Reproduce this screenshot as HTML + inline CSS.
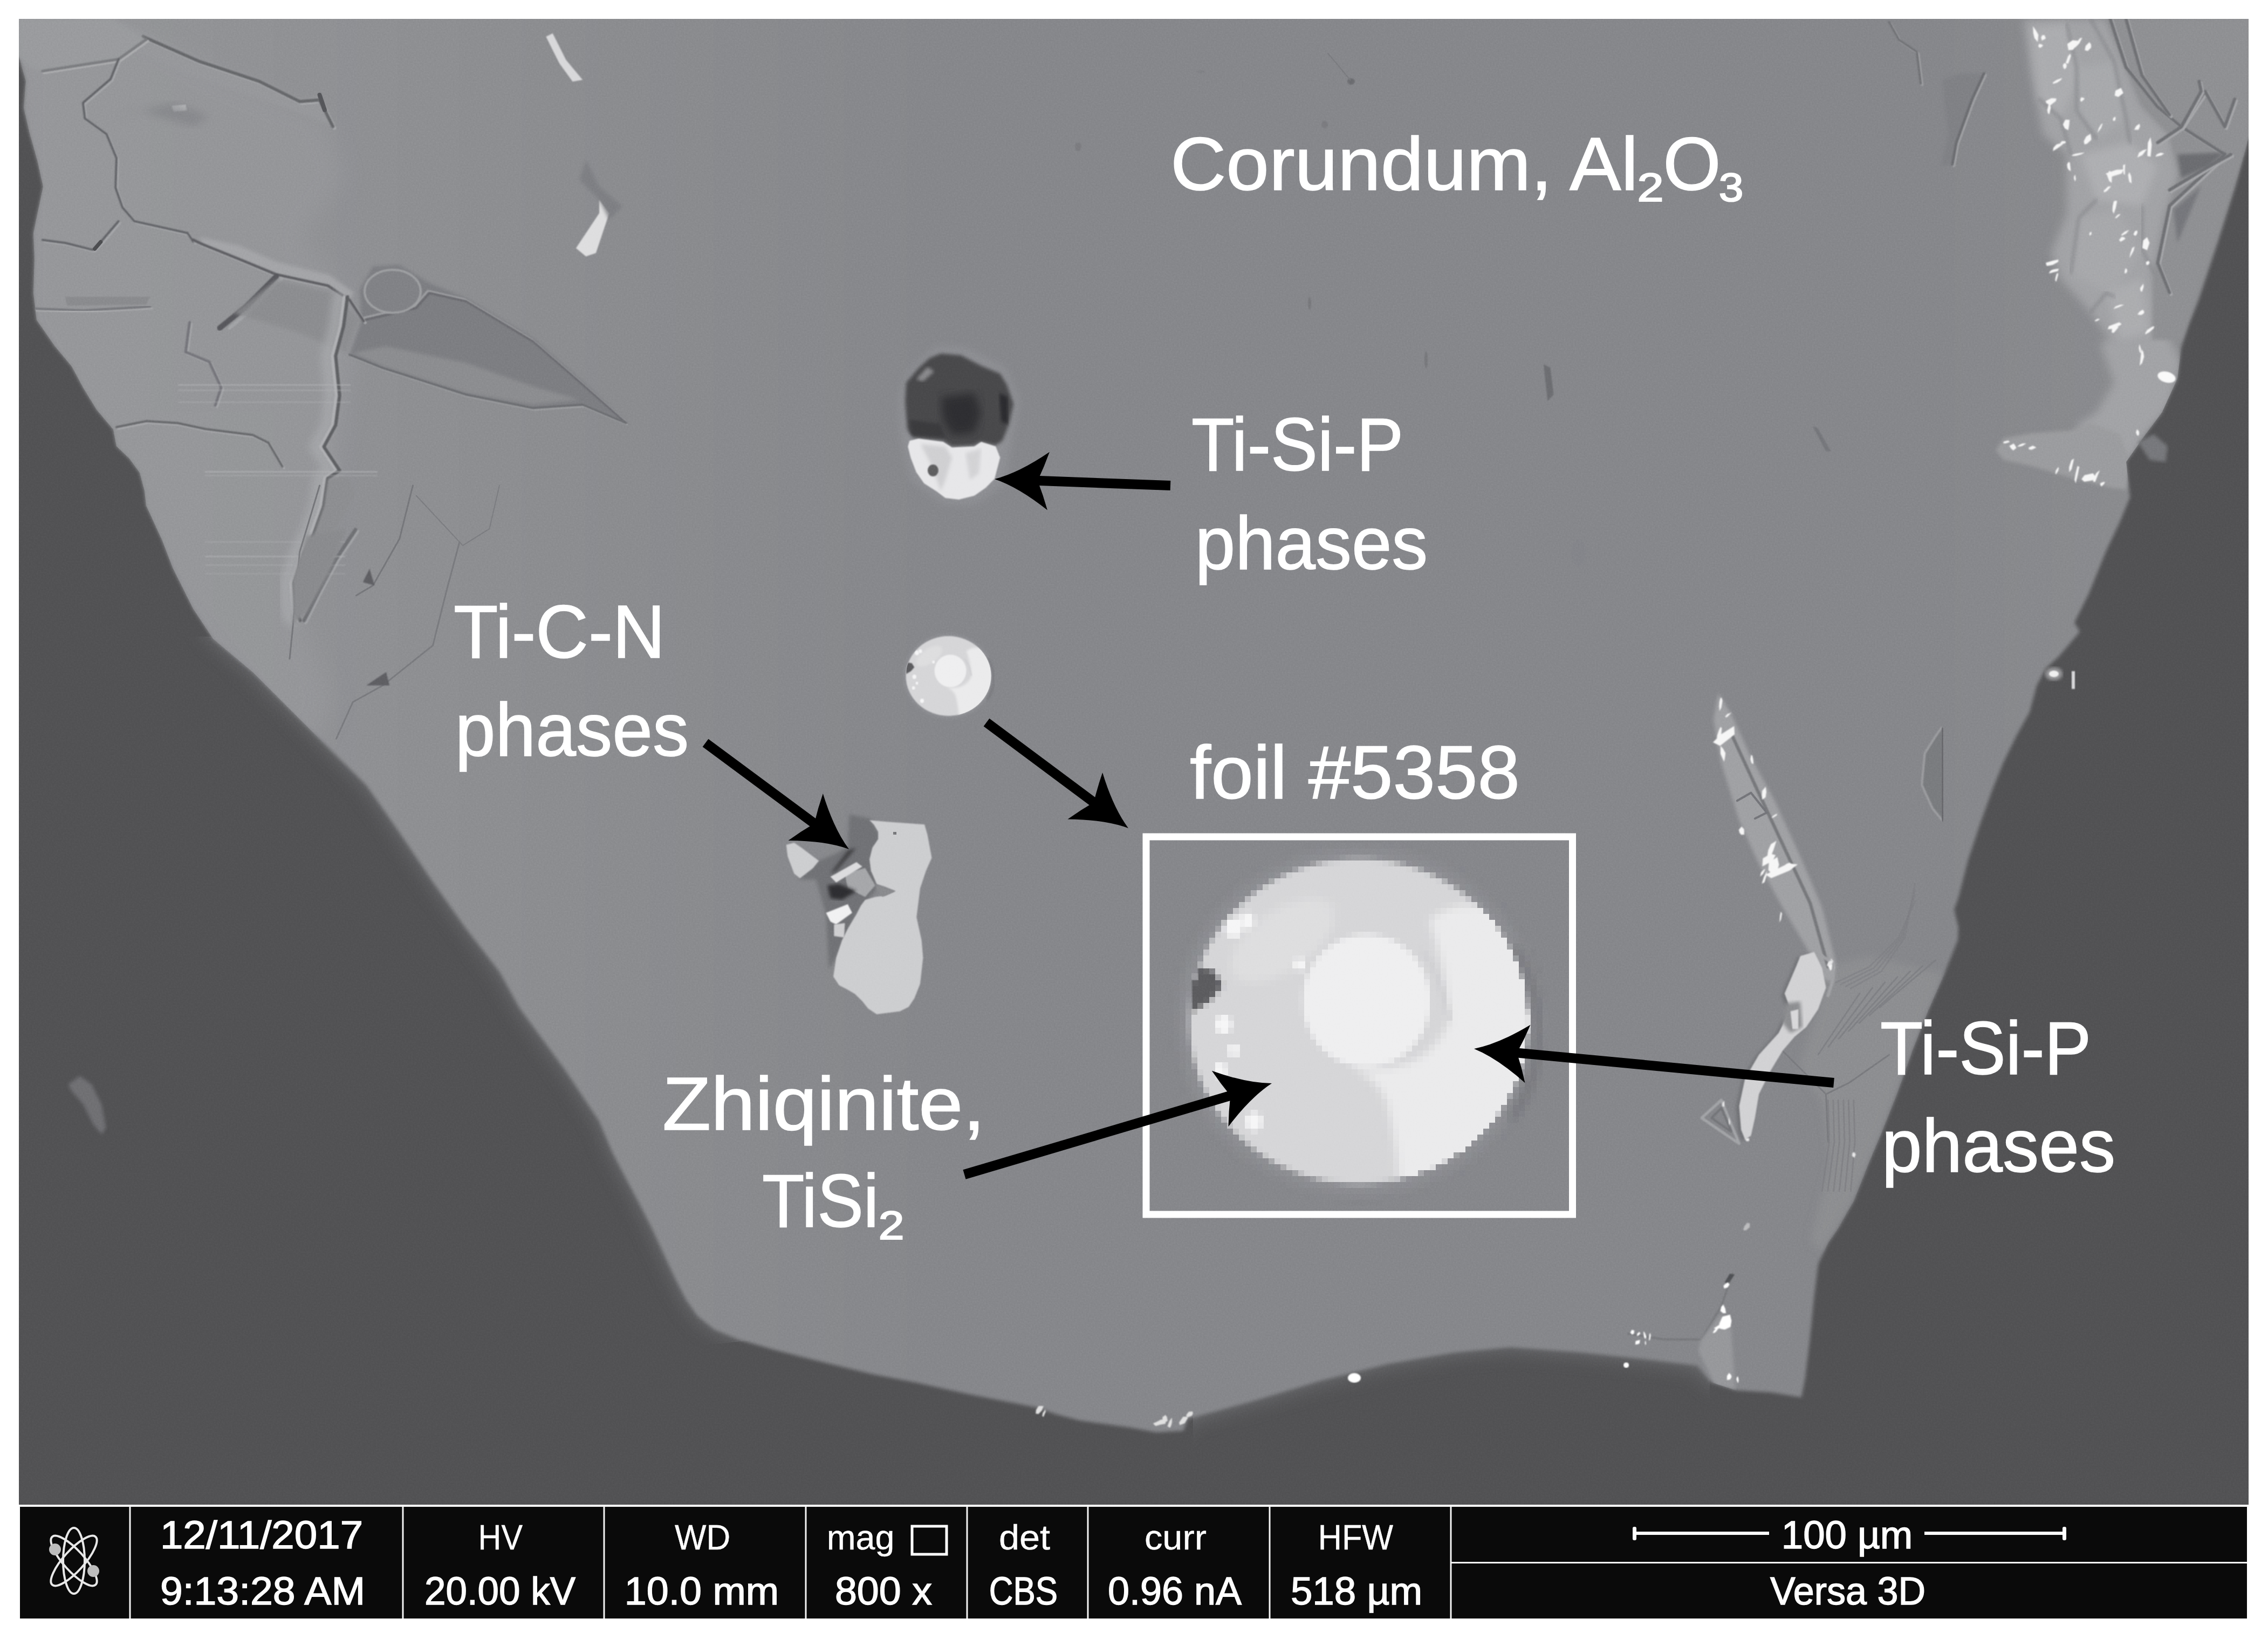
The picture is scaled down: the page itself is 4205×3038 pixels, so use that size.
<!DOCTYPE html>
<html lang="en"><head><meta charset="utf-8"><title>SEM BSE image - corundum with Ti-Si-P inclusions</title>
<style>html,body{margin:0;padding:0;background:#fff}svg{display:block}text{font-family:"Liberation Sans",sans-serif}</style>
</head><body>
<svg width="4205" height="3038" viewBox="0 0 4205 3038">
<defs>
<clipPath id="imgclip"><rect x="35" y="35" width="4134" height="2756"/></clipPath>
<clipPath id="grainclip"><path d="M15 15 L15 105 L35 105 L48 150 L44 200 L55 247 L70 300 L80 346 L62 432 L64 480 L62 543 L68 593 L102 642 L133 679 L155 720 L179 759 L210 796 L216 827 L240 850 L259 876 L268 910 L271 937 L300 1000 L321 1054 L358 1128 L395 1184 L469 1246 L555 1332 L617 1394 L679 1455 L740 1542 L802 1634 L864 1721 L926 1801 L963 1868 L1049 1985 L1111 2078 L1136 2137 L1160 2183 L1185 2230 L1210 2279 L1231 2325 L1253 2372 L1272 2409 L1293 2439 L1324 2464 L1370 2483 L1432 2501 L1494 2517 L1555 2532 L1617 2547 L1700 2563 L1795 2584 L1922 2609 L1960 2622 L2002 2633 L2095 2646 L2144 2655 L2194 2652 L2202 2630 L2326 2596 L2449 2559 L2573 2528 L2696 2507 L2800 2497 L2924 2506 L3048 2519 L3147 2531 L3172 2562 L3218 2577 L3284 2581 L3333 2589 L3340 2590 L3347 2554 L3355 2488 L3363 2409 L3371 2343 L3390 2303 L3408 2277 L3437 2226 L3466 2153 L3488 2101 L3517 2028 L3547 1944 L3576 1871 L3605 1805 L3630 1742 L3631 1719 L3623 1686 L3631 1664 L3649 1594 L3671 1528 L3695 1461 L3715 1412 L3739 1363 L3763 1320 L3776 1271 L3793 1239 L3817 1217 L3856 1171 L3846 1154 L3873 1100 L3905 1021 L3931 966 L3949 922 L3942 856 L3978 805 L4008 765 L4037 702 L4044 644 L4059 600 L4076 557 L4113 446 L4144 347 L4163 279 L4169 255 L4190 255 L4190 15Z"/></clipPath>
<clipPath id="glowclip"><path d="M35 1180 L700 1180 L1300 2250 L1430 2440 L1430 2480 L1250 2500 L35 2500Z M2212 2400 L3170 2400 L3170 2700 L2212 2700Z"/></clipPath>
<linearGradient id="gg" x1="0" y1="0" x2="1" y2="0">
<stop offset="0" stop-color="#959699"/><stop offset="0.22" stop-color="#8d8e91"/><stop offset="0.42" stop-color="#86878b"/><stop offset="0.85" stop-color="#86878b"/><stop offset="1" stop-color="#8d8e91"/>
</linearGradient>
<filter id="pix" x="2100" y="1530" width="840" height="740" filterUnits="userSpaceOnUse"><feFlood x="2105" y="1535" height="1" width="1"/><feComposite x="2100" y="1530" width="11" height="11"/><feTile result="a"/><feComposite in="SourceGraphic" in2="a" operator="in"/><feMorphology operator="dilate" radius="5.5"/></filter>
<filter id="noise" x="0" y="0" width="100%" height="100%" color-interpolation-filters="sRGB"><feTurbulence type="fractalNoise" baseFrequency="0.35" numOctaves="2" seed="3"/><feColorMatrix type="matrix" values="1 0 0 0 0  1 0 0 0 0  1 0 0 0 0  0 0 0 0 1"/></filter>
<filter id="b1" x="-5%" y="-5%" width="110%" height="110%"><feGaussianBlur stdDeviation="1.2"/></filter>
<filter id="b3" x="-5%" y="-5%" width="110%" height="110%"><feGaussianBlur stdDeviation="3"/></filter>
<filter id="b8" x="-10%" y="-10%" width="120%" height="120%"><feGaussianBlur stdDeviation="8"/></filter>
<filter id="b20" x="-20%" y="-20%" width="140%" height="140%"><feGaussianBlur stdDeviation="20"/></filter>
</defs>
<rect width="4205" height="3038" fill="#fff"/>
<g clip-path="url(#imgclip)">
<rect x="35" y="35" width="4134" height="2756" fill="#525254"/>
<g clip-path="url(#glowclip)"><path d="M15 15 L15 105 L35 105 L48 150 L44 200 L55 247 L70 300 L80 346 L62 432 L64 480 L62 543 L68 593 L102 642 L133 679 L155 720 L179 759 L210 796 L216 827 L240 850 L259 876 L268 910 L271 937 L300 1000 L321 1054 L358 1128 L395 1184 L469 1246 L555 1332 L617 1394 L679 1455 L740 1542 L802 1634 L864 1721 L926 1801 L963 1868 L1049 1985 L1111 2078 L1136 2137 L1160 2183 L1185 2230 L1210 2279 L1231 2325 L1253 2372 L1272 2409 L1293 2439 L1324 2464 L1370 2483 L1432 2501 L1494 2517 L1555 2532 L1617 2547 L1700 2563 L1795 2584 L1922 2609 L1960 2622 L2002 2633 L2095 2646 L2144 2655 L2194 2652 L2202 2630 L2326 2596 L2449 2559 L2573 2528 L2696 2507 L2800 2497 L2924 2506 L3048 2519 L3147 2531 L3172 2562 L3218 2577 L3284 2581 L3333 2589 L3340 2590 L3347 2554 L3355 2488 L3363 2409 L3371 2343 L3390 2303 L3408 2277 L3437 2226 L3466 2153 L3488 2101 L3517 2028 L3547 1944 L3576 1871 L3605 1805 L3630 1742 L3631 1719 L3623 1686 L3631 1664 L3649 1594 L3671 1528 L3695 1461 L3715 1412 L3739 1363 L3763 1320 L3776 1271 L3793 1239 L3817 1217 L3856 1171 L3846 1154 L3873 1100 L3905 1021 L3931 966 L3949 922 L3942 856 L3978 805 L4008 765 L4037 702 L4044 644 L4059 600 L4076 557 L4113 446 L4144 347 L4163 279 L4169 255 L4190 255 L4190 15Z" fill="#77787b" filter="url(#b20)" opacity="0.85"/></g>
<path d="M15 15 L15 105 L35 105 L48 150 L44 200 L55 247 L70 300 L80 346 L62 432 L64 480 L62 543 L68 593 L102 642 L133 679 L155 720 L179 759 L210 796 L216 827 L240 850 L259 876 L268 910 L271 937 L300 1000 L321 1054 L358 1128 L395 1184 L469 1246 L555 1332 L617 1394 L679 1455 L740 1542 L802 1634 L864 1721 L926 1801 L963 1868 L1049 1985 L1111 2078 L1136 2137 L1160 2183 L1185 2230 L1210 2279 L1231 2325 L1253 2372 L1272 2409 L1293 2439 L1324 2464 L1370 2483 L1432 2501 L1494 2517 L1555 2532 L1617 2547 L1700 2563 L1795 2584 L1922 2609 L1960 2622 L2002 2633 L2095 2646 L2144 2655 L2194 2652 L2202 2630 L2326 2596 L2449 2559 L2573 2528 L2696 2507 L2800 2497 L2924 2506 L3048 2519 L3147 2531 L3172 2562 L3218 2577 L3284 2581 L3333 2589 L3340 2590 L3347 2554 L3355 2488 L3363 2409 L3371 2343 L3390 2303 L3408 2277 L3437 2226 L3466 2153 L3488 2101 L3517 2028 L3547 1944 L3576 1871 L3605 1805 L3630 1742 L3631 1719 L3623 1686 L3631 1664 L3649 1594 L3671 1528 L3695 1461 L3715 1412 L3739 1363 L3763 1320 L3776 1271 L3793 1239 L3817 1217 L3856 1171 L3846 1154 L3873 1100 L3905 1021 L3931 966 L3949 922 L3942 856 L3978 805 L4008 765 L4037 702 L4044 644 L4059 600 L4076 557 L4113 446 L4144 347 L4163 279 L4169 255 L4190 255 L4190 15Z" fill="url(#gg)" filter="url(#b3)"/>
<g clip-path="url(#grainclip)">
<path d="M35 35 L220 35 L420 140 L600 215 L640 330 L560 440 L680 590 L650 700 L620 880 L590 1000 L560 1150 L620 1300 L560 1420 L300 1100 L35 600Z" fill="#97989b" filter="url(#b20)" opacity="0.75"/>
<path d="M216 35.2 L370.4 111.1 L481.5 148.1 L555.6 185.2 L592.6 179 L617.3 234.6 L574.1 216 L469.1 179 L345.7 135.8 L203.7 74.1 L123.5 35.2Z" fill="#97989b" filter="url(#b3)"/>
<path d="M268.4 70.9 L373.4 117.2 L484.5 154.2 L558.6 191.3 L595.6 188.2 L620.3 237.6" fill="none" stroke="#a9aaad" stroke-width="6" stroke-linejoin="round" stroke-linecap="round" filter="url(#b1)"/>
<path d="M265.4 67.9 L370.4 114.2 L481.5 151.2 L555.6 188.3 L592.6 185.2 L617.3 234.6" fill="none" stroke="#66676b" stroke-width="6" stroke-linejoin="round" stroke-linecap="round" filter="url(#b1)"/>
<path d="M592.6 175.9 L601.9 203.7" fill="none" stroke="#55565a" stroke-width="8" stroke-linejoin="round" stroke-linecap="round"/>
<path d="M35.1 35.1 L205 35.1 L270.9 73.2 L219.7 109.8 L78.7 131.8 L54.9 124.5 L35.1 104.3Z" fill="#9a9b9e" filter="url(#b3)"/>
<path d="M81.7 134.8 L222.7 112.8 L273.9 76.2" fill="none" stroke="#adaeb0" stroke-width="5" stroke-linejoin="round" stroke-linecap="round" filter="url(#b1)"/>
<path d="M78.7 131.8 L219.7 109.8 L270.9 73.2" fill="none" stroke="#7c7d80" stroke-width="5" stroke-linejoin="round" stroke-linecap="round" filter="url(#b1)"/>
<path d="M222.7 112.8 L208 149.4 L156.8 193.4 L160.4 222.6 L200.7 251.9 L219 295.9 L217.2 350.8 L230 387.4 L252 413 L350.8 435 L361.8 451.4" fill="none" stroke="#a6a7aa" stroke-width="4" stroke-linejoin="round" stroke-linecap="round" filter="url(#b1)"/>
<path d="M219.7 109.8 L205 146.4 L153.8 190.4 L157.4 219.6 L197.7 248.9 L216 292.9 L214.2 347.8 L227 384.4 L249 410 L347.8 432 L358.8 448.4" fill="none" stroke="#626367" stroke-width="4" stroke-linejoin="round" stroke-linecap="round" filter="url(#b1)"/>
<path d="M81.7 447.8 L123.8 453.3 L175.1 466.1 L189.7 451.4 L222.7 413" fill="none" stroke="#a6a7aa" stroke-width="4" stroke-linejoin="round" stroke-linecap="round" filter="url(#b1)"/>
<path d="M78.7 444.8 L120.8 450.3 L172.1 463.1 L186.7 448.4 L219.7 410" fill="none" stroke="#626367" stroke-width="4" stroke-linejoin="round" stroke-linecap="round" filter="url(#b1)"/>
<path d="M175.7 461.3 L186.7 448.4" fill="none" stroke="#4c4d50" stroke-width="7" stroke-linejoin="round" stroke-linecap="round"/>
<path d="M318.5 195.9 L344.2 194 L346 205 L322.2 206.8Z" fill="#c0c1c3" filter="url(#b1)"/>
<path d="M205 219.6 L322.2 190.4 L388.1 216 L358.8 234.3 L256.3 205Z" fill="#7f8084" filter="url(#b8)" opacity="0.6"/>
<path d="M370.4 439.5 L444.4 455.6 L512.3 485.2 L611.1 509.9 L655.6 542 L648.8 556.8 L608 529.6 L511.7 508.6 L443.2 480.2 L374.7 452.5Z" fill="#a4a5a8" filter="url(#b3)"/>
<path d="M666.7 537 L691.4 493.8 L740.7 490.7 L796.3 524.7 L864.2 552.5 L987.7 626.5 L1080.2 706.8 L1163.6 787 L1080.2 750 L987.7 756.2 L864.2 731.5 L709.9 682.1 L648.1 657.4 L669.8 595.7Z" fill="#7d7e82" filter="url(#b3)"/>
<path d="M654.3 654.3 L716 642 L864.2 672.8 L987.7 716 L1074.1 740.7 L987.7 750 L864.2 728.4 L709.9 679Z" fill="#8c8d90" filter="url(#b3)"/>
<path d="M361 447.4 L377.7 455.5 L446.2 483.2 L514.7 511.6 L611 532.6 L651.8 559.8 L677.1 598.1" fill="none" stroke="#a8a9ac" stroke-width="5" stroke-linejoin="round" stroke-linecap="round" filter="url(#b1)"/>
<path d="M358 444.4 L374.7 452.5 L443.2 480.2 L511.7 508.6 L608 529.6 L648.8 556.8 L674.1 595.1" fill="none" stroke="#5e5f63" stroke-width="5" stroke-linejoin="round" stroke-linecap="round" filter="url(#b1)"/>
<path d="M676 588.6 L768.6 567 L793.3 539.2 L861.2 554.6 L984.7 628.7 L1077.2 709 L1160.6 783" fill="none" stroke="#9c9da0" stroke-width="4" stroke-linejoin="round" stroke-linecap="round" filter="url(#b1)"/>
<path d="M679 592.6 L771.6 571 L796.3 543.2 L864.2 558.6 L987.7 632.7 L1080.2 713 L1163.6 787" fill="none" stroke="#6a6b6f" stroke-width="4" stroke-linejoin="round" stroke-linecap="round" filter="url(#b1)"/>
<path d="M651.1 660.4 L712.9 685.1 L867.2 734.5 L990.7 759.2 L1083.2 753 L1163.5 787" fill="none" stroke="#9fa0a3" stroke-width="4" stroke-linejoin="round" stroke-linecap="round" filter="url(#b1)"/>
<path d="M648.1 657.4 L709.9 682.1 L864.2 731.5 L987.7 756.2 L1080.2 750 L1160.5 784" fill="none" stroke="#6b6c70" stroke-width="4" stroke-linejoin="round" stroke-linecap="round" filter="url(#b1)"/>
<ellipse cx="728" cy="540" rx="52" ry="40" fill="#818286" stroke="#9fa0a3" stroke-width="4" filter="url(#b1)"/>
<path d="M512.3 512.3 L456.8 567.9 L407.4 608" fill="none" stroke="#58595d" stroke-width="10" stroke-linejoin="round" stroke-linecap="round" filter="url(#b1)"/>
<path d="M521.6 517.3 L466 574.1 L425.9 608" fill="none" stroke="#a3a4a7" stroke-width="6" stroke-linejoin="round" stroke-linecap="round" filter="url(#b1)"/>
<path d="M432.1 580.2 L512.3 518.5 L617.3 543.2 L666.7 592.6 L642 654.3 L555.6 617.3Z" fill="#8b8c8f" filter="url(#b3)" opacity="0.8"/>
<path d="M628.4 550 L621.1 604.9 L606.4 659.8 L613.7 733 L606.4 787.9 L584.5 828.2 L613.7 872.1 L591.8 886.8 L584.5 938 L566.2 989.3 L547.8 1025.9 L529.5 1080.8 L533.2 1135.7 L540.5 1150" fill="none" stroke="#a9aaad" stroke-width="22" stroke-linejoin="round" stroke-linecap="round" filter="url(#b8)" opacity="0.8"/>
<path d="M638.4 550 L631.1 604.9 L616.4 659.8 L623.7 733 L616.4 787.9 L594.5 828.2 L623.7 872.1 L601.8 886.8 L594.5 938 L576.2 989.3 L557.8 1025.9 L539.5 1080.8 L543.2 1135.7 L550.5 1150" fill="none" stroke="#b0b1b4" stroke-width="6" stroke-linejoin="round" stroke-linecap="round" filter="url(#b1)"/>
<path d="M644.4 550 L637.1 604.9 L622.4 659.8 L629.7 733 L622.4 787.9 L600.5 828.2 L629.7 872.1 L607.8 886.8 L600.5 938 L582.2 989.3 L563.8 1025.9 L545.5 1080.8 L549.2 1135.7 L556.5 1150" fill="none" stroke="#5f6064" stroke-width="6" stroke-linejoin="round" stroke-linecap="round" filter="url(#b1)"/>
<path d="M607.8 886.8 L644.4 883.1 L659 916.1 L622.4 982 L585.8 1018.6 L582.2 989.3 L600.5 938Z" fill="#8d8e91" filter="url(#b3)"/>
<path d="M563.8 1025.9 L593.1 1011.3 L622.4 1036.9 L571.2 1135.7 L549.2 1135.7 L545.5 1080.8Z" fill="#939497" filter="url(#b3)"/>
<path d="M662 985 L625.4 1039.9 L596.1 1094.8 L566.8 1153" fill="none" stroke="#a3a4a7" stroke-width="7" stroke-linejoin="round" stroke-linecap="round" filter="url(#b1)"/>
<path d="M659 982 L622.4 1036.9 L593.1 1091.8 L563.8 1150" fill="none" stroke="#707175" stroke-width="7" stroke-linejoin="round" stroke-linecap="round" filter="url(#b1)"/>
<path d="M219 794.6 L273.9 783.6 L332.5 787.3 L383.8 798.3 L471.6 809.3 L500.9 823.9 L526.6 867.8" fill="none" stroke="#a8a9ac" stroke-width="4" stroke-linejoin="round" stroke-linecap="round" filter="url(#b1)"/>
<path d="M216 791.6 L270.9 780.6 L329.5 784.3 L380.8 795.3 L468.6 806.3 L497.9 820.9 L523.6 864.8" fill="none" stroke="#66676b" stroke-width="4" stroke-linejoin="round" stroke-linecap="round" filter="url(#b1)"/>
<path d="M354.5 600.6 L347.2 655.5 L391.1 673.8 L413.1 721.4 L402.1 754.3" fill="none" stroke="#a5a6a9" stroke-width="5" stroke-linejoin="round" stroke-linecap="round" filter="url(#b1)"/>
<path d="M351.5 597.6 L344.2 652.5 L388.1 670.8 L410.1 718.4 L399.1 751.3" fill="none" stroke="#74757a" stroke-width="5" stroke-linejoin="round" stroke-linecap="round" filter="url(#b1)"/>
<path d="M65.2 575 L156.8 578.6 L281.3 571.3" fill="none" stroke="#a8a9ac" stroke-width="4" stroke-linejoin="round" stroke-linecap="round" filter="url(#b1)"/>
<path d="M62.2 572 L153.8 575.6 L278.3 568.3" fill="none" stroke="#76777b" stroke-width="4" stroke-linejoin="round" stroke-linecap="round" filter="url(#b1)"/>
<path d="M120.8 550 L278.3 550 L270.9 564.6 L124.5 566.5Z" fill="#8a8b8e" filter="url(#b1)"/>
<rect x="330" y="712" width="320" height="3" fill="#b4b5b8" opacity="0.5" filter="url(#b1)"/>
<rect x="330" y="722" width="320" height="3" fill="#b4b5b8" opacity="0.35" filter="url(#b1)"/>
<rect x="330" y="744" width="320" height="3" fill="#b4b5b8" opacity="0.3" filter="url(#b1)"/>
<rect x="380" y="873" width="320" height="3" fill="#b4b5b8" opacity="0.55" filter="url(#b1)"/>
<rect x="380" y="880" width="320" height="3" fill="#b4b5b8" opacity="0.3" filter="url(#b1)"/>
<rect x="380" y="1003" width="260" height="3" fill="#b4b5b8" opacity="0.3" filter="url(#b1)"/>
<rect x="380" y="1030" width="260" height="3" fill="#b4b5b8" opacity="0.5" filter="url(#b1)"/>
<rect x="380" y="1046" width="260" height="3" fill="#b4b5b8" opacity="0.3" filter="url(#b1)"/>
<rect x="380" y="1062" width="260" height="3" fill="#b4b5b8" opacity="0.25" filter="url(#b1)"/>
<path d="M592.6 900 L555.6 1023.5 L543.2 1159.3 L537 1221" fill="none" stroke="#76777b" stroke-width="3" stroke-linejoin="round" stroke-linecap="round"/>
<path d="M765.4 900 L740.7 998.8 L691.4 1085.2 L660.5 1103.7" fill="none" stroke="#76777b" stroke-width="3" stroke-linejoin="round" stroke-linecap="round"/>
<path d="M851.9 1004.9 L827.2 1097.5 L802.5 1196.3 L709.9 1270.4 L654.3 1301.2 L623.5 1369.1" fill="none" stroke="#7a7b7f" stroke-width="3" stroke-linejoin="round" stroke-linecap="round"/>
<path d="M925.9 900 L907.4 980.2 L858 1011.1 L771.6 918.5" fill="none" stroke="#7c7d81" stroke-width="2" stroke-linejoin="round" stroke-linecap="round"/>
<path d="M567.9 992.6 L642 980.2 L611.1 1060.5 L567.9 1134.6 L543.2 1159.3 L543.2 1072.8Z" fill="#8a8b8e" filter="url(#b3)"/>
<path d="M679 1270.4 L716 1245.7 L722.2 1270.4Z" fill="#5e5f63" filter="url(#b1)"/>
<path d="M672.8 1079 L685.2 1054.3 L694.4 1085.2Z" fill="#5e5f63" filter="url(#b1)"/>
<path d="M1012.3 67.9 L1024.7 61.7 L1049.4 111.1 L1080.2 148.1 L1061.7 151.2 L1037 117.3Z" fill="#d8d8da" filter="url(#b1)"/>
<path d="M1067.9 459.9 L1111.1 395.1 L1111.1 370.4 L1129.6 395.1 L1104.9 469.1 L1086.4 475.3Z" fill="#dededf" filter="url(#b1)"/>
<path d="M1086.4 296.3 L1111.1 345.7 L1154.3 382.7 L1129.6 407.4 L1111.1 370.4 L1074.1 333.3Z" fill="#7c7d81" filter="url(#b3)" opacity="0.8"/>
<ellipse cx="1999" cy="272" rx="6" ry="8" fill="#7b7c80" filter="url(#b1)"/>
<ellipse cx="2505" cy="151" rx="7" ry="6" fill="#6c6d71" filter="url(#b1)"/>
<ellipse cx="2456" cy="231" rx="6" ry="7" fill="#7b7c80" filter="url(#b1)"/>
<ellipse cx="2428" cy="562" rx="3" ry="12" fill="#77787c" filter="url(#b1)"/>
<ellipse cx="2644" cy="667" rx="3" ry="16" fill="#77787c" filter="url(#b1)"/>
<ellipse cx="2227" cy="133" rx="8" ry="3" fill="#808185" filter="url(#b1)"/>
<ellipse cx="2927" cy="1024" rx="14" ry="24" fill="#84858a" filter="url(#b1)"/>
<path d="M2462 99 L2480 120 L2503 148" fill="none" stroke="#7a7b7f" stroke-width="2" stroke-linejoin="round" stroke-linecap="round"/>
<path d="M3751.5 35.1 L3766.1 139.8 L3788.1 249.6 L3832 286.3 L3832 396.1 L3802.7 469.3 L3821.1 516.9 L3876 579.1 L3912.6 630 L3894.3 636.6 L3919.9 709.8 L3887 764.7 L3846.7 790.4 L3949.2 856.3 L3978.5 805 L4022.4 753.8 L4044.4 673.2 L4000.5 579.1 L3993.1 505.9 L4015.1 396.1 L4040.7 322.9 L4022.4 249.6 L3971.2 194.7 L3949.2 139.8 L3905.3 35.1Z" fill="#a2a3a6" filter="url(#b8)"/>
<path d="M3766.1 52 L3832 44.6 L3857.7 139.8 L3821.1 220.4 L3780.8 183.8Z" fill="#adaeb1" filter="url(#b8)" opacity="0.9"/>
<path d="M3850.3 125.2 L3919.9 114.2 L3941.9 220.4 L3887 257 L3850.3 205.7Z" fill="#a9aaad" filter="url(#b8)" opacity="0.9"/>
<path d="M3857.7 286.3 L3949.2 264.3 L4000.5 308.2 L3971.2 381.4 L3887 370.5Z" fill="#b0b1b4" filter="url(#b8)" opacity="0.9"/>
<path d="M3854 403.4 L3927.2 388.8 L3971.2 462 L3919.9 549.8 L3839.4 505.9Z" fill="#a8a9ac" filter="url(#b8)" opacity="0.9"/>
<path d="M3905.3 542.5 L3971.2 513.2 L3985.8 615.7 L3930.9 630Z" fill="#adaeb1" filter="url(#b8)" opacity="0.9"/>
<path d="M3832 44.6 L3850.3 125.2 L3850.3 205.7 L3887 257" fill="none" stroke="#85868a" stroke-width="5" stroke-linejoin="round" stroke-linecap="round" filter="url(#b3)" opacity="0.8"/>
<path d="M3780.8 183.8 L3821.1 220.4 L3839.4 286.3" fill="none" stroke="#85868a" stroke-width="5" stroke-linejoin="round" stroke-linecap="round" filter="url(#b3)" opacity="0.8"/>
<path d="M3949.2 264.3 L3941.9 220.4 L3919.9 114.2 L3876 35.1" fill="none" stroke="#85868a" stroke-width="5" stroke-linejoin="round" stroke-linecap="round" filter="url(#b3)" opacity="0.8"/>
<path d="M3887 370.5 L3854 403.4 L3839.4 505.9" fill="none" stroke="#85868a" stroke-width="5" stroke-linejoin="round" stroke-linecap="round" filter="url(#b3)" opacity="0.8"/>
<path d="M3971.2 381.4 L3971.2 462 L3993.1 505.9" fill="none" stroke="#85868a" stroke-width="5" stroke-linejoin="round" stroke-linecap="round" filter="url(#b3)" opacity="0.8"/>
<path d="M3919.9 549.8 L3905.3 542.5 L3876 579.1" fill="none" stroke="#85868a" stroke-width="5" stroke-linejoin="round" stroke-linecap="round" filter="url(#b3)" opacity="0.8"/>
<path d="M3905.3 35.1 L4168.9 35.1 L4168.9 260.6 L4044.4 630 L3989.5 630 L3993.1 505.9 L4040.7 322.9 L4022.4 249.6 L3971.2 194.7Z" fill="#8f9093" filter="url(#b3)"/>
<path d="M3915.6 38.1 L3944.9 128.2 L4003.5 201.4 L4047.4 238 L4127.9 289.3" fill="none" stroke="#a7a8ab" stroke-width="6" stroke-linejoin="round" stroke-linecap="round" filter="url(#b1)"/>
<path d="M3912.6 35.1 L3941.9 125.2 L4000.5 198.4 L4044.4 235 L4124.9 286.3" fill="none" stroke="#707175" stroke-width="6" stroke-linejoin="round" stroke-linecap="round" filter="url(#b1)"/>
<path d="M4047.4 238 L4091.3 172.1 L4127.9 238 L4146.2 186.8" fill="none" stroke="#a7a8ab" stroke-width="6" stroke-linejoin="round" stroke-linecap="round" filter="url(#b1)"/>
<path d="M4044.4 235 L4088.3 169.1 L4124.9 235 L4143.2 183.8" fill="none" stroke="#707175" stroke-width="6" stroke-linejoin="round" stroke-linecap="round" filter="url(#b1)"/>
<path d="M4127.9 289.3 L4025.4 384.4 L4003.5 490.6 L4025.4 545.5" fill="none" stroke="#a7a8ab" stroke-width="6" stroke-linejoin="round" stroke-linecap="round" filter="url(#b1)"/>
<path d="M4124.9 286.3 L4022.4 381.4 L4000.5 487.6 L4022.4 542.5" fill="none" stroke="#707175" stroke-width="6" stroke-linejoin="round" stroke-linecap="round" filter="url(#b1)"/>
<path d="M4080.3 153.8 L4084 172.1 L4047.4 238 L4003.5 267.3" fill="none" stroke="#a7a8ab" stroke-width="6" stroke-linejoin="round" stroke-linecap="round" filter="url(#b1)"/>
<path d="M4077.3 150.8 L4081 169.1 L4044.4 235 L4000.5 264.3" fill="none" stroke="#707175" stroke-width="6" stroke-linejoin="round" stroke-linecap="round" filter="url(#b1)"/>
<path d="M4025.4 355.1 L4098.7 311.2 L4138.9 289.3" fill="none" stroke="#a7a8ab" stroke-width="6" stroke-linejoin="round" stroke-linecap="round" filter="url(#b1)"/>
<path d="M4022.4 352.1 L4095.7 308.2 L4135.9 286.3" fill="none" stroke="#707175" stroke-width="6" stroke-linejoin="round" stroke-linecap="round" filter="url(#b1)"/>
<path d="M3944.9 38.1 L3974.2 142.8 L4025.4 216" fill="none" stroke="#a7a8ab" stroke-width="6" stroke-linejoin="round" stroke-linecap="round" filter="url(#b1)"/>
<path d="M3941.9 35.1 L3971.2 139.8 L4022.4 213" fill="none" stroke="#707175" stroke-width="6" stroke-linejoin="round" stroke-linecap="round" filter="url(#b1)"/>
<path d="M4037.1 286.3 L4124.9 282.6 L4095.7 308.2 L4044.4 330.2Z" fill="#6c6d71" filter="url(#b3)"/>
<path d="M4029.7 388.8 L4081 344.8 L4051.7 414.4 L4037.1 451Z" fill="#76777b" filter="url(#b3)"/>
<path d="M3505.5 44 L3523.8 76.9 L3556.8 98.9 L3564.1 157.5" fill="none" stroke="#a0a1a4" stroke-width="4" stroke-linejoin="round" stroke-linecap="round" filter="url(#b1)"/>
<path d="M3502.5 41 L3520.8 73.9 L3553.8 95.9 L3561.1 154.5" fill="none" stroke="#707175" stroke-width="4" stroke-linejoin="round" stroke-linecap="round" filter="url(#b1)"/>
<path d="M3601.4 147.1 L3634.3 136.2 L3678.3 136.2 L3656.3 183.8 L3627 264.3 L3619.7 304.6 L3597.7 308.2 L3612.4 249.6 L3605 194.7Z" fill="#808185" filter="url(#b3)"/>
<path d="M3681.3 139.2 L3659.3 186.8 L3630 267.3 L3622.7 307.6" fill="none" stroke="#a0a1a4" stroke-width="5" stroke-linejoin="round" stroke-linecap="round" filter="url(#b1)"/>
<path d="M3678.3 136.2 L3656.3 183.8 L3627 264.3 L3619.7 304.6" fill="none" stroke="#6c6d71" stroke-width="5" stroke-linejoin="round" stroke-linecap="round" filter="url(#b1)"/>
<path d="M3700.2 834.3 L3714.9 812.3 L3766.1 803.2 L3839.4 797.7 L3876 783 L3930.9 805 L3949.2 856.3 L3941.9 907.5 L3912.6 903.8 L3839.4 885.5 L3766.1 863.6 L3714.9 852.6Z" fill="#9b9c9f" filter="url(#b3)"/>
<g filter="url(#b1)">
<path d="M3769.1 48.5 L3774.8 56.4 L3779.3 64.6 L3778.1 78.1 L3772 70.4 L3769.9 61.9Z" fill="#f6f6f6"/>
<path d="M3852.2 75.6 L3848.1 86.7 L3843.1 92.6 L3835 93 L3832.8 81.4 L3842.8 74.4Z" fill="#f6f6f6"/>
<path d="M3876.9 82.6 L3877.1 88.2 L3870.8 94.5 L3865.3 93 L3866.9 85 L3874 78.1Z" fill="#f6f6f6"/>
<path d="M3829.8 117 L3834.1 104.6 L3838.3 99.3 L3839.6 104.1 L3834.6 117.9Z" fill="#f6f6f6"/>
<path d="M3803.3 182 L3812.8 182.4 L3811.6 187.2 L3801.9 194.9 L3794.4 191.5 L3792.6 187.6Z" fill="#f6f6f6"/>
<path d="M3798.8 190.7 L3801.3 195 L3802.3 200.1 L3799.4 212 L3796.8 209.5 L3795.7 204.3Z" fill="#f6f6f6"/>
<path d="M3932.5 162.7 L3936.9 172.5 L3927.6 179.7 L3920.7 177.3 L3922.2 168Z" fill="#f6f6f6"/>
<path d="M3837.3 222.2 L3836.4 231.6 L3834.7 241.3 L3828.2 237.9 L3824.7 230.7 L3829.3 221.7Z" fill="#f6f6f6"/>
<path d="M3814.6 275 L3806.2 280.3 L3807.1 274.1 L3812.7 267.8 L3818.6 265.9 L3824.9 267.4Z" fill="#f6f6f6"/>
<path d="M3823 261.4 L3829.5 261.7 L3830 265 L3822.2 267.6 L3819.4 265.6Z" fill="#f6f6f6"/>
<path d="M3867.9 253.1 L3876 248 L3877.5 259.1 L3869.2 266.7 L3864.5 267.6 L3863.6 261.4Z" fill="#f6f6f6"/>
<path d="M3987.2 254.1 L3989.5 268.2 L3987.3 290.5 L3981.2 289.2 L3982.3 264.4Z" fill="#f6f6f6"/>
<path d="M3965.8 283.1 L3973.5 278.2 L3980.5 276.4 L3972.1 287.6 L3962.7 292Z" fill="#f6f6f6"/>
<path d="M3839.4 317.2 L3835.5 314.9 L3833.3 311.4 L3832.4 304.9 L3834.5 300.8 L3837.6 300.8 L3838.5 308Z" fill="#f6f6f6"/>
<path d="M3903.8 321.8 L3923.7 314.7 L3937.4 314.1 L3933.6 321.7 L3911.1 328.6Z" fill="#f6f6f6"/>
<path d="M3910.5 335.6 L3906.7 324.9 L3910.5 316.4 L3914.4 318.8 L3915.6 327.3 L3915.2 338.9Z" fill="#f6f6f6"/>
<path d="M3939.7 312.5 L3939.7 324.2 L3937.1 322.3 L3936.5 314.5 L3936.1 306.1 L3938.2 305.4 L3940.2 304.1Z" fill="#f6f6f6"/>
<path d="M3918.9 373.4 L3921.8 372 L3925.2 372.6 L3922.8 385.5 L3918.9 396.3 L3916.6 391 L3916.9 382.8Z" fill="#f6f6f6"/>
<path d="M3939.6 429.2 L3948 425.9 L3941.9 433 L3933.9 436.9 L3932.9 435.1Z" fill="#f6f6f6"/>
<path d="M3931.5 447.9 L3928.8 445 L3933.3 439.3 L3937.7 439.5 L3941 442.3 L3935.3 446.2Z" fill="#f6f6f6"/>
<path d="M3985.4 450 L3980.9 463.8 L3972 459.8 L3973.6 445.7 L3980.8 439.5Z" fill="#f6f6f6"/>
<path d="M3816.3 485.2 L3806.2 491 L3795.4 493 L3793.7 490.6 L3793.1 487 L3804.8 483.6 L3816.3 481Z" fill="#f6f6f6"/>
<path d="M3799.1 507.1 L3800.2 503.4 L3803.3 500.7 L3808.5 499.1 L3817.3 498 L3815.5 502.6 L3807 504.7Z" fill="#f6f6f6"/>
<path d="M3815.9 505.8 L3815.9 510 L3814.8 514 L3812.4 522 L3810.4 520.5 L3810.9 515 L3813 507.4Z" fill="#f6f6f6"/>
<path d="M3975.3 577.1 L3975.3 580.4 L3969.9 584 L3963 583.1 L3966.6 577.7 L3972.6 574Z" fill="#f6f6f6"/>
<path d="M3933.7 601 L3920.4 609.2 L3907.8 610.2 L3910 604.4 L3929.3 597.3Z" fill="#f6f6f6"/>
<path d="M3847.5 336.5 L3845.1 331.1 L3845.4 326.7 L3847.7 324.1 L3848.7 332.3Z" fill="#f6f6f6"/>
<path d="M3785.8 75.3 L3784.2 69.5 L3786.3 65.3 L3790.6 64.9 L3793.1 71.3 L3789.2 73.6Z" fill="#f6f6f6"/>
<path d="M3855.2 80.6 L3847.5 88.2 L3848 81 L3856.4 70.8 L3860.6 70Z" fill="#f6f6f6"/>
<path d="M3825.6 125.2 L3824.6 120.7 L3827.4 117.1 L3829.8 117.6 L3831.7 119.8 L3831.3 125.1 L3827.9 128.5Z" fill="#f6f6f6"/>
<path d="M3920.1 216.8 L3922.2 217.1 L3922.5 219.9 L3921.3 223.6 L3918.5 224.3 L3917.5 222.2 L3917.9 219.4Z" fill="#f6f6f6"/>
<path d="M3966.7 229.2 L3967.8 234 L3965 240.6 L3956.8 240.6 L3960.7 233.6Z" fill="#f6f6f6"/>
<path d="M3996.1 290.5 L3998.9 286.1 L4005.8 283 L4012.6 284.4 L4007 288.3Z" fill="#f6f6f6"/>
<path d="M3983.5 490.8 L3979.6 491.2 L3978.5 486 L3982.9 483.4 L3985.8 486.1Z" fill="#f6f6f6"/>
<path d="M3778.8 85.8 L3780.7 81.2 L3785.7 82.6 L3788 84.3 L3786 86.5 L3782.1 89.1Z" fill="#f6f6f6"/>
<path d="M3812.9 148.3 L3823.4 144.6 L3820.9 148.6 L3814.4 153 L3806.5 155.4 L3806 153.1Z" fill="#f6f6f6"/>
<path d="M3865.2 182.8 L3862.7 185.6 L3858.5 189.1 L3856.7 184.9 L3858.6 180.3 L3862.6 181.3Z" fill="#f6f6f6"/>
<path d="M3898.6 228.6 L3895.8 237 L3888.7 246.6 L3891.1 237.7 L3895.5 230.5Z" fill="#f6f6f6"/>
<path d="M3847.6 285.1 L3854.8 283.7 L3865.2 282.4 L3858.7 286.2 L3848.7 289.1 L3843.1 289 L3840.4 287.9Z" fill="#f6f6f6"/>
<path d="M3951.3 326.7 L3951.7 331.9 L3952.2 339.7 L3948.1 337.5 L3946.4 330.8 L3945.6 324.3 L3948.1 318.9Z" fill="#f6f6f6"/>
<path d="M3900.3 353.8 L3908.7 345.4 L3914.2 345.5 L3906.5 353.9 L3901 356.8Z" fill="#f6f6f6"/>
<path d="M3924.3 404.3 L3921.1 403.9 L3925.9 398.6 L3930.8 396.3 L3930.7 398.3Z" fill="#f6f6f6"/>
<path d="M3949.7 469.5 L3953.2 459.4 L3957.6 457 L3955.8 465.1 L3948.2 478.5Z" fill="#f6f6f6"/>
<path d="M3962.1 433.5 L3959.8 437.1 L3957.7 436.5 L3955.4 434.3 L3958.5 428.2 L3962.3 427.3 L3963.1 430.1Z" fill="#f6f6f6"/>
<path d="M3944 502.2 L3942.6 505.7 L3939.2 507.1 L3939.3 502.3 L3940.9 496.9 L3943.5 499.3Z" fill="#f6f6f6"/>
<path d="M3974.4 532 L3971.4 540.8 L3968.8 539.8 L3967.8 534.2 L3974 525.6Z" fill="#f6f6f6"/>
<path d="M3922.4 568.1 L3931 564.8 L3938.4 564.7 L3927.6 569.8 L3918.1 572.7Z" fill="#f6f6f6"/>
<path d="M3992.3 609.6 L3985.3 615.4 L3977.6 620 L3977.5 617.1 L3981.4 611.3 L3990.8 605.3 L3994.8 605.2Z" fill="#f6f6f6"/>
<path d="M3889.3 590.8 L3893.6 591.6 L3888.2 594.9 L3884.1 595.5 L3883.9 594Z" fill="#f6f6f6"/>
<path d="M3877.2 429.7 L3877.9 431.2 L3877.3 435 L3874.5 436.4 L3873.5 434.7 L3874.8 430.5Z" fill="#f6f6f6"/>
<path d="M3916 608.4 L3923.3 604.8 L3927.9 606.6 L3919 616.9 L3915.1 616.3Z" fill="#f6f6f6"/>
<path d="M3975.3 661.3 L3971.6 673.1 L3967.1 677.8 L3968.8 662.7 L3970.6 647.1 L3973.8 652.2Z" fill="#f6f6f6"/>
<path d="M3966.8 652.2 L3965.4 645.1 L3966.7 637.5 L3969.4 645.9 L3969.6 655.2Z" fill="#f6f6f6"/>
<path d="M3713.6 821 L3715.7 818.3 L3723.4 816.5 L3726.4 819.3 L3717.8 822.1Z" fill="#f6f6f6"/>
<path d="M3728.7 831.4 L3725.4 826.6 L3733.7 822 L3736.8 826.8 L3738.6 830.3 L3732.8 835.1Z" fill="#f6f6f6"/>
<path d="M3756.8 821.8 L3750.7 825.9 L3746.3 827.5 L3739.8 828 L3744.3 824.2 L3749.8 821.9Z" fill="#f6f6f6"/>
<path d="M3768.9 826 L3772 827.6 L3775.5 829.5 L3767.3 833.4 L3762.7 833.2 L3761.3 832.1 L3761.5 829.5Z" fill="#f6f6f6"/>
<path d="M3812 879.2 L3810.7 877.4 L3811.6 872.3 L3815.4 866.5 L3817.5 866.8 L3815.9 873.1Z" fill="#f6f6f6"/>
<path d="M3836.3 865.8 L3840.5 853 L3845.4 850 L3840.9 869.7 L3836.4 875.3Z" fill="#f6f6f6"/>
<path d="M3848.3 877.5 L3851.7 863.7 L3855.2 865.3 L3852.5 879 L3848.5 896 L3846.2 889.2Z" fill="#f6f6f6"/>
<path d="M3879.8 890.2 L3864.5 893.1 L3859.2 888.3 L3864.7 880.7 L3880.7 877.3 L3884.6 882.9Z" fill="#f6f6f6"/>
<path d="M3893.3 871.5 L3889.3 881.3 L3884.7 893 L3881.7 893.2 L3880.3 889.6 L3886.1 877.5 L3889.9 873.9Z" fill="#f6f6f6"/>
<path d="M3896.2 901.7 L3894.1 899 L3893.9 895.8 L3898.9 893.4 L3902.9 893.2 L3901.1 897Z" fill="#f6f6f6"/>
<path d="M4001.6 813.9 L4006.4 807.3 L4011.8 808.3 L4011.2 814.2 L4005.7 819Z" fill="#f6f6f6"/>
<path d="M3965.9 799.7 L3966.1 804.4 L3964.7 807.8 L3961.9 806.4 L3960.1 801.3 L3962.4 795.5Z" fill="#f6f6f6"/>
<path d="M4010.4 852 L4013.8 852.5 L4014.8 856 L4007.7 860.7 L4001.5 862.4 L4001.3 858.7 L4004.2 853.6Z" fill="#f6f6f6"/>
</g>
<ellipse cx="4017" cy="699" rx="17" ry="10" fill="#fafafa" filter="url(#b1)" transform="rotate(15 4017 699)"/>
<path d="M2861.9 675.3 L2874.3 681.5 L2880.5 731.1 L2869.4 743.5Z" fill="#6d6e72" filter="url(#b1)"/>
<path d="M3360.6 790 L3369.9 793.1 L3394.7 836.4 L3385.4 836.4Z" fill="#76777b" filter="url(#b1)"/>
<path d="M3378.2 1793.9 L3466.1 1772 L3605.2 1804.9 L3546.6 1944 L3488 2101.4 L3436.8 2225.9 L3378.2 2321.1 L3356.3 2299.1 L3392.9 2152.7 L3378.2 2042.9 L3334.3 1977 L3370.9 1870.8Z" fill="#8e8f92" filter="url(#b8)" opacity="0.9"/>
<path d="M3370.9 1955 L3447.8 1841.5" fill="none" stroke="#7b7c80" stroke-width="3" stroke-linejoin="round" stroke-linecap="round" opacity="0.7"/>
<path d="M3389.9 1940.4 L3471.2 1831.3" fill="none" stroke="#7b7c80" stroke-width="3" stroke-linejoin="round" stroke-linecap="round" opacity="0.7"/>
<path d="M3409 1925.7 L3494.6 1821" fill="none" stroke="#7b7c80" stroke-width="3" stroke-linejoin="round" stroke-linecap="round" opacity="0.7"/>
<path d="M3428 1911.1 L3518.1 1810.8" fill="none" stroke="#7b7c80" stroke-width="3" stroke-linejoin="round" stroke-linecap="round" opacity="0.7"/>
<path d="M3447 1896.4 L3541.5 1800.5" fill="none" stroke="#7b7c80" stroke-width="3" stroke-linejoin="round" stroke-linecap="round" opacity="0.7"/>
<path d="M3466.1 1881.8 L3564.9 1790.3" fill="none" stroke="#7b7c80" stroke-width="3" stroke-linejoin="round" stroke-linecap="round" opacity="0.7"/>
<path d="M3485.1 1867.1 L3588.3 1780" fill="none" stroke="#7b7c80" stroke-width="3" stroke-linejoin="round" stroke-linecap="round" opacity="0.7"/>
<path d="M3389.2 2039.2 L3391.4 2116.1 L3378.2 2207.6" fill="none" stroke="#7d7e82" stroke-width="3" stroke-linejoin="round" stroke-linecap="round" opacity="0.7"/>
<path d="M3398.7 2039.2 L3400.9 2116.1 L3388.8 2207.6" fill="none" stroke="#7d7e82" stroke-width="3" stroke-linejoin="round" stroke-linecap="round" opacity="0.7"/>
<path d="M3408.2 2039.2 L3410.4 2116.1 L3399.5 2207.6" fill="none" stroke="#7d7e82" stroke-width="3" stroke-linejoin="round" stroke-linecap="round" opacity="0.7"/>
<path d="M3417.8 2039.2 L3420 2116.1 L3410.1 2207.6" fill="none" stroke="#7d7e82" stroke-width="3" stroke-linejoin="round" stroke-linecap="round" opacity="0.7"/>
<path d="M3427.3 2039.2 L3429.5 2116.1 L3420.7 2207.6" fill="none" stroke="#7d7e82" stroke-width="3" stroke-linejoin="round" stroke-linecap="round" opacity="0.7"/>
<path d="M3436.8 2039.2 L3439 2116.1 L3431.3 2207.6" fill="none" stroke="#7d7e82" stroke-width="3" stroke-linejoin="round" stroke-linecap="round" opacity="0.7"/>
<path d="M3305 1947.7 L3385.5 2028.2 L3389.2 2116.1" fill="none" stroke="#7a7b7f" stroke-width="3" stroke-linejoin="round" stroke-linecap="round"/>
<path d="M3385.5 2028.2 L3429.5 2006.3 L3502.7 1955" fill="none" stroke="#7a7b7f" stroke-width="3" stroke-linejoin="round" stroke-linecap="round"/>
<path d="M3403.8 1821.1 L3466.1 1791.8 L3521 1736.9 L3550.3 1671" fill="none" stroke="#7e7f83" stroke-width="3" stroke-linejoin="round" stroke-linecap="round" opacity="0.6"/>
<path d="M3413 1824.7 L3473.4 1794.7 L3524.6 1736.9 L3550.3 1660" fill="none" stroke="#7e7f83" stroke-width="3" stroke-linejoin="round" stroke-linecap="round" opacity="0.6"/>
<path d="M3422.1 1828.4 L3480.7 1797.7 L3528.3 1736.9 L3550.3 1649" fill="none" stroke="#7e7f83" stroke-width="3" stroke-linejoin="round" stroke-linecap="round" opacity="0.6"/>
<path d="M3431.3 1832.1 L3488 1800.6 L3532 1736.9 L3550.3 1638" fill="none" stroke="#7e7f83" stroke-width="3" stroke-linejoin="round" stroke-linecap="round" opacity="0.6"/>
<path d="M3186 1284.8 L3209.8 1323.2 L3246.4 1403.8 L3290.4 1484.3 L3334.3 1579.5 L3378.2 1682 L3403.8 1784.5 L3400.2 1821.1 L3378.2 1813.8 L3348.9 1755.2 L3305 1682 L3261.1 1601.4 L3224.5 1520.9 L3191.5 1414.7 L3176.9 1334.2Z" fill="#a0a1a4" filter="url(#b3)"/>
<path d="M3209.8 1359.8 L3253.8 1455 L3305 1564.8 L3356.3 1674.6 L3389.2 1791.8" fill="none" stroke="#77787c" stroke-width="6" stroke-linejoin="round" stroke-linecap="round" filter="url(#b1)"/>
<path d="M3220.8 1484.3 L3246.4 1469.6 L3275.7 1506.3 L3253.8 1517.2" fill="none" stroke="#74757a" stroke-width="4" stroke-linejoin="round" stroke-linecap="round"/>
<g filter="url(#b1)">
<path d="M3187.4 1309.3 L3187.8 1301.6 L3189.6 1293.9 L3191.8 1292.9 L3193.6 1298.7 L3191.5 1311.6 L3188.2 1318.1Z" fill="#f6f6f6"/>
<path d="M3216.1 1361.3 L3189.1 1382.5 L3175.9 1376.1 L3190.3 1361.6 L3215.2 1345.8Z" fill="#f6f6f6"/>
<path d="M3187.3 1352.4 L3189.9 1347.6 L3192.4 1349.3 L3191 1364.5 L3186.4 1380.9 L3183.1 1377.7 L3183.5 1363.7Z" fill="#f6f6f6"/>
<path d="M3194.4 1387.2 L3199.2 1395.7 L3198.2 1404.2 L3196.5 1412.1 L3190 1397.4 L3189.8 1382.4Z" fill="#f6f6f6"/>
<path d="M3247.1 1413.7 L3245.3 1407.4 L3246.4 1399.4 L3248.9 1400.4 L3250.3 1407 L3251.1 1415.8 L3248.7 1415.4Z" fill="#f6f6f6"/>
<path d="M3273.8 1458.2 L3275 1468.2 L3273.5 1477.9 L3267.3 1482.3 L3266.5 1474 L3267.2 1465.7Z" fill="#f6f6f6"/>
<path d="M3233.9 1546.9 L3228 1547.3 L3225.2 1543.6 L3223.8 1537.9 L3229 1532.1 L3233.5 1536.7 L3233.9 1540.8Z" fill="#f6f6f6"/>
<path d="M3278.3 1575.9 L3283.3 1564.8 L3293.6 1558.5 L3288.1 1575.7 L3282.6 1589 L3276.8 1585.9Z" fill="#f6f6f6"/>
<path d="M3286.7 1595.8 L3267.4 1605.9 L3268.4 1591 L3282.8 1582.4 L3292.1 1584.9Z" fill="#f6f6f6"/>
<path d="M3295.3 1588.6 L3298.5 1602.9 L3296 1611.3 L3286.5 1621.5 L3278.5 1612.8 L3279.7 1598.4Z" fill="#f6f6f6"/>
<path d="M3284 1627.7 L3273.3 1621.2 L3315.8 1600.2 L3333 1602.2 L3317.8 1613.7Z" fill="#f6f6f6"/>
<path d="M3311 1601.7 L3317.8 1599 L3323 1602.4 L3321.8 1608.6 L3317.1 1611.7 L3311.4 1613.3 L3308.2 1608.3Z" fill="#f6f6f6"/>
<path d="M3266.4 1638.1 L3270.2 1625.7 L3276.2 1614.5 L3275 1624.1 L3271.4 1635.6Z" fill="#f6f6f6"/>
<path d="M3302.1 1704.4 L3299.2 1709.7 L3300.1 1697.5 L3301.7 1689.7 L3304 1693Z" fill="#f6f6f6"/>
<path d="M3395.6 1776.8 L3399.8 1785.6 L3401.5 1794.5 L3393.8 1799.2 L3389.2 1790.8 L3390.1 1783.8Z" fill="#f6f6f6"/>
<path d="M3211.2 1320.1 L3206.7 1324.6 L3202.6 1328.7 L3199.2 1329.7 L3198.7 1327.8 L3203.2 1323 L3206.5 1322.4Z" fill="#f6f6f6"/>
<path d="M3273.2 1610.7 L3268.8 1620 L3263.4 1624.7 L3265.1 1617.1 L3269.9 1612Z" fill="#f6f6f6"/>
<path d="M3294.3 1511.2 L3287.4 1515.8 L3284.4 1515.8 L3287.7 1512 L3292.5 1508.9 L3295.3 1508.4Z" fill="#f6f6f6"/>
</g>
<path d="M3599.7 1348.8 L3601.5 1520.9 L3583.2 1498.9 L3563.1 1455 L3568.6 1396.4 L3586.9 1367.1Z" fill="#7a7b7f" filter="url(#b1)"/>
<path d="M3599.7 1348.8 L3586.9 1367.1 L3568.6 1396.4 L3563.1 1455 L3583.2 1498.9 L3601.5 1520.9" fill="none" stroke="#9c9da0" stroke-width="4" stroke-linejoin="round" stroke-linecap="round" filter="url(#b1)"/>
<path d="M3600.8 1350.7 L3602.3 1520.9" fill="none" stroke="#67686c" stroke-width="5" stroke-linejoin="round" stroke-linecap="round" filter="url(#b1)"/>
<path d="M3331.9 1775 L3357.6 1767.6 L3372.2 1796.9 L3379.5 1833.5 L3364.9 1873.8 L3342.9 1906.8 L3321 1925.1 L3299 1950.7 L3277 1987.3 L3255.1 2031.2 L3247.8 2075.1 L3240.4 2108.1 L3229.4 2115.4 L3222.1 2097.1 L3218.5 2053.2 L3229.4 2001.9 L3255.1 1958 L3291.7 1917.7 L3313.6 1873.8 L3302.7 1844.5 L3313.6 1818.9 L3324.6 1793.3Z" fill="#707175" filter="url(#b3)"/>
<path d="M3337.9 1772 L3363.6 1764.6 L3378.2 1793.9 L3385.5 1830.5 L3370.9 1870.8 L3348.9 1903.8 L3327 1922.1 L3305 1947.7 L3283 1984.3 L3261.1 2028.2 L3253.8 2072.1 L3246.4 2105.1 L3235.4 2112.4 L3228.1 2094.1 L3224.5 2050.2 L3235.4 1998.9 L3261.1 1955 L3297.7 1914.7 L3319.6 1870.8 L3308.7 1841.5 L3319.6 1815.9 L3330.6 1790.3Z" fill="#d2d2d4" filter="url(#b1)"/>
<path d="M3310.5 1859.8 L3337.9 1856.2 L3341.6 1903.8 L3319.6 1914.7 L3305 1896.4Z" fill="#8d8e91" filter="url(#b3)"/>
<path d="M3319.6 1874.5 L3334.3 1870.8 L3334.3 1907.4 L3323.3 1907.4Z" fill="#d8d8da" filter="url(#b1)"/>
<path d="M3154.9 2072.1 L3191.5 2039.2 L3224.5 2119.7 L3154.9 2072.1" fill="none" stroke="#a3a4a7" stroke-width="5" stroke-linejoin="round" stroke-linecap="round" filter="url(#b1)"/>
<path d="M3173.2 2072.1 L3191.5 2053.8 L3209.8 2097.8 L3173.2 2072.1" fill="none" stroke="#737478" stroke-width="4" stroke-linejoin="round" stroke-linecap="round" filter="url(#b1)"/>
<path d="M3378.2 1772 L3400.2 1786.6 L3396.5 1823.2 L3389.2 1845.2" fill="none" stroke="#a0a1a4" stroke-width="6" stroke-linejoin="round" stroke-linecap="round" filter="url(#b1)"/>
<g filter="url(#b1)">
<path d="M3397.6 1785.2 L3394.9 1788.2 L3391.7 1789.7 L3387 1790.4 L3388.6 1786.2 L3392 1780.8 L3398.5 1780.3Z" fill="#e8e8e9"/>
<path d="M3440.7 2140.1 L3438.3 2145.9 L3433.8 2142.8 L3434.3 2137.3 L3437.9 2135.2Z" fill="#e8e8e9"/>
<path d="M3239.1 2266.6 L3244.2 2267.8 L3244.2 2274.6 L3238.4 2279.8 L3234 2281.3 L3232.2 2278.3 L3234.2 2273.2Z" fill="#bcbcbe"/>
<path d="M3197.1 2045.7 L3197 2051 L3193.9 2051.2 L3193 2047.4 L3194 2043.4 L3197 2040.2Z" fill="#e8e8e9"/>
<path d="M3206.3 2085.6 L3205.3 2081.5 L3205.1 2078.1 L3205 2071.5 L3206.8 2075.4 L3207.9 2079 L3207.6 2083.7Z" fill="#e8e8e9"/>
<path d="M3242.9 2115 L3238.5 2115.5 L3236.6 2113.8 L3236.1 2110.4 L3239.7 2109.4 L3243.3 2110.1Z" fill="#e8e8e9"/>
</g>
<path d="M3212.2 2361.1 L3191 2422 L3154 2482.8 L3085.2 2482.8 L3019 2472.2" fill="none" stroke="#78797d" stroke-width="4" stroke-linejoin="round" stroke-linecap="round" filter="url(#b1)"/>
<path d="M3154 2482.8 L3191 2435.2 L3209.5 2461.6 L3217.5 2575.4 L3180.4 2567.5 L3148.7 2504Z" fill="#97989b" filter="url(#b3)"/>
<path d="M3206.9 2361.1 L3216.1 2362.4 L3204.2 2379.6 L3197.6 2377Z" fill="#505154" filter="url(#b1)"/>
<g filter="url(#b1)">
<path d="M3207.6 2436.8 L3210.4 2448.3 L3208.5 2459.6 L3197.8 2464.5 L3189.3 2463.1 L3187.5 2453.8 L3193.4 2440.5Z" fill="#ffffff"/>
<path d="M3198.3 2451.7 L3200.3 2453.9 L3194.9 2459.9 L3184.5 2463.3 L3180.2 2463.6 L3177.8 2461.7 L3188.5 2454.9Z" fill="#ffffff"/>
<path d="M3185.3 2463.4 L3181.5 2468.4 L3178.4 2470.8 L3175.3 2470.5 L3178.8 2464.9 L3182.6 2462.5Z" fill="#ffffff"/>
<path d="M3196.7 2388.3 L3195.4 2383.2 L3198.8 2380.1 L3203.7 2376.7 L3206.9 2381.1 L3203.1 2386.4Z" fill="#ffffff"/>
<path d="M3189.6 2429.9 L3191.3 2422.3 L3195.1 2418 L3198.7 2425.4 L3200.2 2434.1 L3194.9 2434.2Z" fill="#ffffff"/>
<path d="M3030 2466 L3029.7 2471.5 L3026.3 2474 L3022.6 2470.3 L3025.3 2465.1Z" fill="#ffffff"/>
<path d="M3041.3 2472 L3037.7 2475.4 L3034.9 2476.4 L3035.4 2472.1 L3039.8 2468.6Z" fill="#ffffff"/>
<path d="M3052.6 2478.1 L3050.6 2482.1 L3047.9 2478 L3047 2467.4 L3049.5 2470.3Z" fill="#ffffff"/>
<path d="M3057.2 2484.9 L3057.5 2478.3 L3058 2473.5 L3059.6 2470.4 L3060.7 2475.7 L3059.7 2481.4 L3058.7 2484Z" fill="#ffffff"/>
<path d="M3036.5 2484.6 L3040.8 2483.7 L3039.8 2490.3 L3035.9 2491.8 L3031.9 2492.3 L3032.5 2485.8Z" fill="#ffffff"/>
<path d="M3050.9 2484.8 L3051.7 2487.5 L3051.9 2491.5 L3051.1 2492.9 L3050.3 2492.5 L3049.7 2489.4 L3050.1 2486.2Z" fill="#ffffff"/>
<path d="M3016.2 2533.8 L3014.2 2542 L3012.5 2534.9 L3012.5 2528 L3014.4 2521.9 L3017.5 2521.3 L3018.9 2528.9Z" fill="#ffffff"/>
<path d="M3207.8 2557 L3201.9 2557.9 L3201.9 2550.5 L3205.8 2544.7 L3209.4 2548.5 L3210.4 2552.3Z" fill="#ffffff"/>
<path d="M3223.6 2558.4 L3222.8 2563.7 L3220.9 2561.6 L3219.3 2556.2 L3220.4 2552.7 L3221.2 2551.5 L3222.7 2552.1Z" fill="#ffffff"/>
</g>
<path d="M1736.1 642.8 L1790.1 644.9 L1864.7 682.2 L1889.6 744.5 L1877.2 806.7 L1862.6 895.9 L1806.6 935.3 L1748.6 933.2 L1688.4 889.7 L1669.8 806.7 L1667.7 736.2 L1682.2 692.6Z" fill="#909195" filter="url(#b8)" opacity="0.9"/>
<path d="M1744.4 655.3 L1781.8 658.4 L1819.1 678.1 L1854.3 692.6 L1866.8 713.3 L1879.2 748.6 L1870.9 786 L1858.5 817.1 L1846.1 825.4 L1817 819.1 L1806.6 825.4 L1765.2 827.4 L1748.6 817.1 L1692.6 810.8 L1682.2 796.3 L1678.1 744.5 L1680.1 709.2 L1703 682.2 L1723.7 663.6Z" fill="#48484b" filter="url(#b3)"/>
<path d="M1744.4 736.2 L1806.6 727.9 L1819.1 765.2 L1806.6 802.6 L1765.2 806.7 L1748.6 777.7Z" fill="#2e2e30" filter="url(#b8)"/>
<path d="M1852.3 727.9 L1868.9 736.2 L1868.9 786 L1856.4 781.8Z" fill="#2c2c2e" filter="url(#b3)"/>
<path d="M1698.8 703 L1719.5 680.2 L1732 688.5 L1711.3 707.1Z" fill="#8a8a8d" filter="url(#b3)"/>
<path d="M1686.4 777.7 L1744.4 786 L1752.7 810.8 L1690.5 806.7Z" fill="#3a3a3d" filter="url(#b3)"/>
<path d="M1686.4 817.1 L1703 812.9 L1748.6 819.1 L1765.2 829.5 L1806.6 827.4 L1819.1 819.1 L1846.1 827.4 L1854.3 848.2 L1844 887.6 L1827.4 904.2 L1806.6 918.7 L1777.6 926 L1752.7 922.9 L1736.1 910.4 L1713.3 895.9 L1698.8 875.2 L1688.4 848.2 L1683.3 827.4Z" fill="#e7e7e9" filter="url(#b1)"/>
<path d="M1707.1 823.3 L1752.7 827.4 L1765.2 848.2 L1752.7 889.7 L1744.4 910.4 L1727.8 864.8Z" fill="#cbcbcd" filter="url(#b3)" opacity="0.8"/>
<path d="M1790.1 839.9 L1819.1 831.6 L1814.9 877.2 L1798.4 889.7Z" fill="#cfcfd1" filter="url(#b3)" opacity="0.8"/>
<ellipse cx="1729.9" cy="872.0" rx="10" ry="11" fill="#5e5e61" filter="url(#b1)"/>
<filter id="sbs" x="-10%" y="-10%" width="120%" height="120%"><feGaussianBlur stdDeviation="0.9"/></filter>
<filter id="scs" x="-10%" y="-10%" width="120%" height="120%"><feGaussianBlur stdDeviation="2.25"/></filter>
<clipPath id="cps"><ellipse cx="1758.5" cy="1253" rx="79" ry="74"/></clipPath>
<g>
<ellipse cx="1758.5" cy="1253" rx="84.53" ry="79.18" fill="#8f9094" opacity="0.7" filter="url(#scs)"/>
<path d="M1831.2 1219.7 C1847 1245.6 1845.4 1275.2 1829.6 1297.4" fill="none" stroke="#6f7074" stroke-width="4.0" opacity="0.7" filter="url(#scs)"/>
<ellipse cx="1758.5" cy="1253" rx="79" ry="74" fill="#d6d6d8" filter="url(#sbs)"/>
<g clip-path="url(#cps)">
<path d="M1791.7 1207.1 C1805.9 1195.3 1825.7 1199.7 1845.4 1212.3 L1845.4 1334.4 L1778.2 1334.4 C1777.5 1319.6 1775.9 1304.8 1772.4 1291.5 C1770.3 1284.1 1764.8 1278.2 1755.3 1273.7 C1778.2 1278.2 1794.8 1269.3 1801.2 1253 C1800.4 1234.5 1796.4 1219.7 1791.7 1207.1Z" fill="#ebebec" filter="url(#scs)"/>
<ellipse cx="1723.0" cy="1216.0" rx="27.6" ry="13.3" fill="#dededf" filter="url(#scs)" transform="rotate(-35 1723.0 1216.0)"/>
<ellipse cx="1762.1" cy="1243.6" rx="29.5" ry="30.1" fill="#efeff0" filter="url(#sbs)"/>
<path d="M1788.1 1221.2 C1795.6 1229.3 1798 1239.7 1800.8 1252.3" fill="none" stroke="#d0d0d3" stroke-width="2.8" filter="url(#sbs)"/>
<path d="M1679.5 1227.8 L1690.6 1229.3 L1695.3 1236.7 L1689 1244.1 L1680.3 1249.3Z" fill="#5c5c5f" filter="url(#sbs)"/>
<ellipse cx="1700.0" cy="1210.1" rx="4.0" ry="4.4" fill="#f6f6f7" filter="url(#sbs)"/>
<ellipse cx="1706.4" cy="1207.1" rx="3.2" ry="3.6" fill="#f6f6f7" filter="url(#sbs)"/>
<ellipse cx="1695.3" cy="1254.5" rx="3.6" ry="4.0" fill="#f6f6f7" filter="url(#sbs)"/>
<ellipse cx="1693.7" cy="1275.2" rx="2.8" ry="3.1" fill="#f6f6f7" filter="url(#sbs)"/>
<ellipse cx="1709.5" cy="1298.9" rx="3.6" ry="4.0" fill="#f6f6f7" filter="url(#sbs)"/>
<ellipse cx="1700.0" cy="1266.3" rx="2.4" ry="2.7" fill="#f6f6f7" filter="url(#sbs)"/>
<ellipse cx="1730.8" cy="1227.1" rx="2.4" ry="2.7" fill="#f6f6f7" filter="url(#sbs)"/>
</g></g>
<path d="M1574.5 1509.5 L1614.8 1517.6 L1630.9 1547.1 L1622.8 1651.8 L1587.9 1694.8 L1550.3 1775.3 L1536.9 1796.8 L1531.5 1694.8 L1512.8 1630.3 L1480.5 1630.3 L1518.1 1595.4 L1550.3 1582 L1571.8 1568.6Z" fill="#717276" filter="url(#b3)"/>
<path d="M1612.1 1520.3 L1641.6 1523 L1714.1 1528.3 L1719.5 1547.1 L1727.5 1590.1 L1716.8 1614.2 L1706 1646.4 L1699.3 1700.1 L1708.7 1743.1 L1711.4 1775.3 L1706 1823.6 L1695.3 1850.5 L1684.6 1866.6 L1668.5 1874.6 L1647 1877.3 L1625.5 1880 L1609.4 1869.3 L1598.7 1855.8 L1585.2 1842.4 L1571.8 1834.4 L1555.7 1826.3 L1545 1810.2 L1550.3 1775.3 L1561.1 1743.1 L1571.8 1721.6 L1587.9 1694.8 L1596 1678.7 L1604 1667.9 L1622.8 1662.6 L1641.6 1659.9 L1660.4 1651.8 L1641.6 1643.8 L1625.5 1638.4 L1614.8 1614.2 L1612.1 1592.8 L1617.4 1571.3 L1628.2 1555.2 L1628.2 1541.7 L1620.1 1528.3Z" fill="#cdced0" filter="url(#b1)"/>
<path d="M1457.7 1565.9 L1472.5 1561.9 L1485.9 1571.3 L1518.1 1595.4 L1507.4 1608.9 L1483.2 1627.7 L1472.5 1619.6 L1460.4 1587.4Z" fill="#cdced0" filter="url(#b1)"/>
<path d="M1566.4 1619.6 L1604 1608.9 L1622.8 1641.1 L1604 1662.6 L1571.8 1646.4Z" fill="#a6a7aa" filter="url(#b1)"/>
<path d="M1539.6 1625 L1587.9 1598.1 L1598.7 1606.2 L1550.3 1635.7Z" fill="#dcdcde" filter="url(#b1)"/>
<path d="M1534.2 1641.1 L1555.7 1638.4 L1587.9 1651.8 L1561.1 1667.9 L1539.6 1665.2Z" fill="#2f2f31" filter="url(#b3)"/>
<path d="M1571.8 1576.6 L1587.9 1571.3 L1550.3 1614.2 L1539.6 1619.6Z" fill="#3c3c3f" filter="url(#b3)"/>
<path d="M1531.5 1692.1 L1571.8 1676 L1579.9 1692.1 L1550.3 1713.6 L1539.6 1708.2Z" fill="#f1f1f2" filter="url(#b1)"/>
<path d="M1546.3 1713.6 L1566.4 1710.9 L1565.1 1737.7 L1546.3 1735Z" fill="#cfcfd1" filter="url(#b1)"/>
<path d="M1622.8 1641.1 L1660.4 1651.8 L1636.2 1662.6Z" fill="#8a8b8e" filter="url(#b1)"/>
<rect x="1656" y="1542" width="6" height="5" fill="#77787b"/>
<filter id="sbb" x="-10%" y="-10%" width="120%" height="120%"><feGaussianBlur stdDeviation="3.0"/></filter>
<filter id="scb" x="-10%" y="-10%" width="120%" height="120%"><feGaussianBlur stdDeviation="7.5"/></filter>
<clipPath id="cpb"><ellipse cx="2519" cy="1893" rx="313" ry="300"/></clipPath>
<g filter="url(#pix)">
<ellipse cx="2519" cy="1893" rx="334.91" ry="321.0" fill="#8f9094" opacity="0.7" filter="url(#scb)"/>
<path d="M2807 1758 C2869.6 1863 2863.3 1983 2800.7 2073" fill="none" stroke="#6f7074" stroke-width="15.7" opacity="0.7" filter="url(#scb)"/>
<ellipse cx="2519" cy="1893" rx="313" ry="300" fill="#d6d6d8" filter="url(#sbb)"/>
<g clip-path="url(#cpb)">
<path d="M2650.5 1707 C2706.8 1659 2785.1 1677 2863.3 1728 L2863.3 2223 L2597.2 2223 C2594.1 2163 2587.9 2103 2574.1 2049 C2565.9 2019 2544 1995 2506.5 1977 C2597.2 1995 2663 1959 2688 1893 C2684.9 1818 2669.2 1758 2650.5 1707Z" fill="#ebebec" filter="url(#scb)"/>
<ellipse cx="2378.2" cy="1743.0" rx="109.5" ry="54.0" fill="#dededf" filter="url(#scb)" transform="rotate(-35 2378.2 1743.0)"/>
<ellipse cx="2533.4" cy="1854.9" rx="117.1" ry="122.1" fill="#efeff0" filter="url(#sbb)"/>
<path d="M2636.4 1764 C2666.1 1797 2675.5 1839 2686.5 1890" fill="none" stroke="#d0d0d3" stroke-width="11.0" filter="url(#sbb)"/>
<path d="M2206 1791 L2249.8 1797 L2268.6 1827 L2243.6 1857 L2209.1 1878Z" fill="#5c5c5f" filter="url(#sbb)"/>
<ellipse cx="2287.4" cy="1719.0" rx="15.7" ry="18.0" fill="#f6f6f7" filter="url(#sbb)"/>
<ellipse cx="2312.4" cy="1707.0" rx="12.5" ry="14.4" fill="#f6f6f7" filter="url(#sbb)"/>
<ellipse cx="2268.6" cy="1899.0" rx="14.1" ry="16.2" fill="#f6f6f7" filter="url(#sbb)"/>
<ellipse cx="2262.3" cy="1983.0" rx="11.0" ry="12.6" fill="#f6f6f7" filter="url(#sbb)"/>
<ellipse cx="2324.9" cy="2079.0" rx="14.1" ry="16.2" fill="#f6f6f7" filter="url(#sbb)"/>
<ellipse cx="2287.4" cy="1947.0" rx="9.4" ry="10.8" fill="#f6f6f7" filter="url(#sbb)"/>
<ellipse cx="2409.4" cy="1788.0" rx="9.4" ry="10.8" fill="#f6f6f7" filter="url(#sbb)"/>
</g></g>
</g>
<path d="M3963.8 819.6 L3993.1 805 L4018.8 827 L4015.1 856.3 L3985.8 852.6Z" fill="#77787b" filter="url(#b3)"/>
<ellipse cx="2511" cy="2554" rx="12" ry="9" fill="#fff" filter="url(#b1)"/>
<g filter="url(#b1)">
<path d="M2152.4 2631.3 L2161.5 2632.3 L2160.8 2638.9 L2151.2 2640.8 L2142.6 2643.3 L2137.7 2638.5 L2146.6 2634.6Z" fill="#e0e0e0"/>
<path d="M2155.3 2635.5 L2155.2 2626.8 L2160.7 2622.8 L2163.4 2626 L2164.9 2633.4 L2159.3 2637.3Z" fill="#e0e0e0"/>
<path d="M2171.9 2641 L2169.7 2646 L2167.5 2646.1 L2164.6 2643.3 L2168.3 2633.7 L2172.9 2627.7 L2173 2635.6Z" fill="#e0e0e0"/>
<path d="M2202.5 2628 L2196.5 2638 L2187.4 2641.5 L2186 2636.8 L2193.5 2625.9 L2199.9 2625.9Z" fill="#e0e0e0"/>
<path d="M2199.7 2622.6 L2203.9 2616.7 L2211 2616.2 L2211.9 2619.4 L2210 2624.1 L2202.4 2626.9 L2199.5 2625.4Z" fill="#e0e0e0"/>
<path d="M1930 2606 L1934.8 2606.3 L1931.6 2614.6 L1925.3 2620.9 L1920.3 2620.2 L1920.9 2613.4 L1925.5 2606.3Z" fill="#e0e0e0"/>
<path d="M1938.8 2616.7 L1934.6 2626.5 L1932.3 2624.4 L1933.3 2619.2 L1938 2612.2Z" fill="#e0e0e0"/>
</g>
<path d="M126.5 2009.9 L148.1 1994.4 L169.8 2009.9 L188.3 2046.9 L196.3 2090.1 L188.3 2102.5 L172.8 2084 L154.3 2046.9 L132.7 2022.2Z" fill="#707073" filter="url(#b3)"/>
<ellipse cx="3808" cy="1249" rx="16" ry="12" fill="#9a9a9c" filter="url(#b3)"/><ellipse cx="3808" cy="1249" rx="9" ry="6" fill="#f0f0f0" filter="url(#b1)"/><rect x="3841" y="1244" width="6" height="33" fill="#d8d8da" filter="url(#b1)"/>
<ellipse cx="3015.1" cy="2530.4" rx="5" ry="5" fill="#fff" filter="url(#b1)"/>
<rect x="35" y="35" width="4134" height="2756" filter="url(#noise)" opacity="0.06" style="mix-blend-mode:overlay"/>
</g>
<text fill="#fff" stroke="#fff"><tspan x="2169.9" y="352" font-size="140" stroke-width="1.5" textLength="867.3" lengthAdjust="spacingAndGlyphs">Corundum, Al</tspan><tspan x="3035.5" y="373" font-size="74" stroke-width="2.2" textLength="49.0" lengthAdjust="spacingAndGlyphs">2</tspan><tspan x="3083.3" y="352" font-size="140" stroke-width="1.5" textLength="107.4" lengthAdjust="spacingAndGlyphs">O</tspan><tspan x="3186.8" y="373" font-size="74" stroke-width="2.2" textLength="45.6" lengthAdjust="spacingAndGlyphs">3</tspan></text>
<text fill="#fff" stroke="#fff"><tspan x="1412.9" y="2274" font-size="140" stroke-width="1.5" textLength="216.5" lengthAdjust="spacingAndGlyphs">TiSi</tspan><tspan x="1628.8" y="2297" font-size="74" stroke-width="2.2" textLength="47.7" lengthAdjust="spacingAndGlyphs">2</tspan></text>
<text fill="#fff" stroke="#fff" x="2209.0" y="872" font-size="140" stroke-width="1.5" textLength="393.2" lengthAdjust="spacingAndGlyphs">Ti-Si-P</text>
<text fill="#fff" stroke="#fff" x="2215.8" y="1055" font-size="140" stroke-width="1.5" textLength="431.4" lengthAdjust="spacingAndGlyphs">phases</text>
<text fill="#fff" stroke="#fff" x="840.9" y="1219" font-size="140" stroke-width="1.5" textLength="392.5" lengthAdjust="spacingAndGlyphs">Ti-C-N</text>
<text fill="#fff" stroke="#fff" x="843.8" y="1401" font-size="140" stroke-width="1.5" textLength="433.4" lengthAdjust="spacingAndGlyphs">phases</text>
<text fill="#fff" stroke="#fff" x="2206.0" y="1480" font-size="140" stroke-width="1.5" textLength="612.1" lengthAdjust="spacingAndGlyphs">foil #5358</text>
<text fill="#fff" stroke="#fff" x="1227.9" y="2094" font-size="140" stroke-width="1.5" textLength="598.5" lengthAdjust="spacingAndGlyphs">Zhiqinite,</text>
<text fill="#fff" stroke="#fff" x="3486.0" y="1991" font-size="140" stroke-width="1.5" textLength="391.2" lengthAdjust="spacingAndGlyphs">Ti-Si-P</text>
<text fill="#fff" stroke="#fff" x="3488.8" y="2172" font-size="140" stroke-width="1.5" textLength="433.4" lengthAdjust="spacingAndGlyphs">phases</text>
<rect x="2125" y="1551" width="790.5" height="700" fill="none" stroke="#fff" stroke-width="13"/>
<line x1="2170" y1="900" x2="1919.9" y2="890.8" stroke="#000" stroke-width="18"/>
<path d="M1844.0 888.0 Q1889.5 876.2 1945.9 837.7 Q1936.4 864.4 1923.9 890.9 Q1934.4 918.3 1941.9 945.6 Q1888.5 903.1 1844.0 888.0Z" fill="#000"/>
<line x1="1308" y1="1377" x2="1512.9" y2="1528.8" stroke="#000" stroke-width="18"/>
<path d="M1574.0 1574.0 Q1529.8 1558.1 1461.5 1557.9 Q1484.4 1541.2 1509.7 1526.4 Q1516.5 1497.8 1525.8 1471.1 Q1545.9 1536.4 1574.0 1574.0Z" fill="#000"/>
<line x1="1829" y1="1339" x2="2031.1" y2="1489.6" stroke="#000" stroke-width="18"/>
<path d="M2092.0 1535.0 Q2047.9 1518.9 1979.5 1518.5 Q2002.5 1502.0 2027.9 1487.2 Q2034.8 1458.7 2044.1 1431.9 Q2064.0 1497.3 2092.0 1535.0Z" fill="#000"/>
<line x1="1788" y1="2177" x2="2285.1" y2="2029.6" stroke="#000" stroke-width="18"/>
<path d="M2358.0 2008.0 Q2318.7 2033.7 2277.5 2088.2 Q2277.9 2059.9 2281.3 2030.7 Q2262.6 2008.1 2246.8 1984.7 Q2311.0 2007.8 2358.0 2008.0Z" fill="#000"/>
<line x1="3400" y1="2007" x2="2808.7" y2="1951.1" stroke="#000" stroke-width="18"/>
<path d="M2733.0 1944.0 Q2779.1 1934.8 2837.6 1899.6 Q2826.6 1925.7 2812.6 1951.5 Q2821.6 1979.5 2827.5 2007.2 Q2776.5 1961.7 2733.0 1944.0Z" fill="#000"/>
<rect x="35" y="2789" width="4134" height="5" fill="#f6f6f6"/>
<rect x="37" y="2793" width="4129" height="207" fill="#0a0a0a"/>
<rect x="239.5" y="2793" width="3" height="207" fill="#f4f4f4"/>
<rect x="745.5" y="2793" width="3" height="207" fill="#f4f4f4"/>
<rect x="1118.5" y="2793" width="3" height="207" fill="#f4f4f4"/>
<rect x="1492.5" y="2793" width="3" height="207" fill="#f4f4f4"/>
<rect x="1791.5" y="2793" width="3" height="207" fill="#f4f4f4"/>
<rect x="2015.5" y="2793" width="3" height="207" fill="#f4f4f4"/>
<rect x="2352.5" y="2793" width="3" height="207" fill="#f4f4f4"/>
<rect x="2688.5" y="2793" width="3" height="207" fill="#f4f4f4"/>
<rect x="2690" y="2895" width="1476" height="3" fill="#f4f4f4"/>
<text x="296.9" y="2870" font-size="72" fill="#fff" stroke="#fff" stroke-width="1.4" textLength="376.2" lengthAdjust="spacingAndGlyphs">12/11/2017</text>
<text x="296.9" y="2974" font-size="72" fill="#fff" stroke="#fff" stroke-width="1.4" textLength="380.2" lengthAdjust="spacingAndGlyphs">9:13:28 AM</text>
<text x="886.6" y="2872" font-size="64" fill="#fff" stroke="#fff" stroke-width="0.4" textLength="82.5" lengthAdjust="spacingAndGlyphs">HV</text>
<text x="787.0" y="2974" font-size="72" fill="#fff" stroke="#fff" stroke-width="1.4" textLength="280.0" lengthAdjust="spacingAndGlyphs">20.00 kV</text>
<text x="1251.0" y="2872" font-size="64" fill="#fff" stroke="#fff" stroke-width="0.4" textLength="103.2" lengthAdjust="spacingAndGlyphs">WD</text>
<text x="1157.8" y="2974" font-size="72" fill="#fff" stroke="#fff" stroke-width="1.4" textLength="286.3" lengthAdjust="spacingAndGlyphs">10.0 mm</text>
<text x="1532.7" y="2872" font-size="64" fill="#fff" stroke="#fff" stroke-width="0.4" textLength="125.6" lengthAdjust="spacingAndGlyphs">mag</text>
<text x="1547.9" y="2974" font-size="72" fill="#fff" stroke="#fff" stroke-width="1.4" textLength="180.1" lengthAdjust="spacingAndGlyphs">800 x</text>
<text x="1851.9" y="2872" font-size="64" fill="#fff" stroke="#fff" stroke-width="0.4" textLength="95.2" lengthAdjust="spacingAndGlyphs">det</text>
<text x="1833.8" y="2974" font-size="72" fill="#fff" stroke="#fff" stroke-width="1.4" textLength="127.3" lengthAdjust="spacingAndGlyphs">CBS</text>
<text x="2121.9" y="2872" font-size="64" fill="#fff" stroke="#fff" stroke-width="0.4" textLength="115.1" lengthAdjust="spacingAndGlyphs">curr</text>
<text x="2054.0" y="2974" font-size="72" fill="#fff" stroke="#fff" stroke-width="1.4" textLength="248.0" lengthAdjust="spacingAndGlyphs">0.96 nA</text>
<text x="2443.8" y="2872" font-size="64" fill="#fff" stroke="#fff" stroke-width="0.4" textLength="139.3" lengthAdjust="spacingAndGlyphs">HFW</text>
<text x="2392.9" y="2974" font-size="72" fill="#fff" stroke="#fff" stroke-width="1.4" textLength="244.2" lengthAdjust="spacingAndGlyphs">518 µm</text>
<text x="3302.8" y="2870" font-size="72" fill="#fff" stroke="#fff" stroke-width="1.4" textLength="243.4" lengthAdjust="spacingAndGlyphs">100 µm</text>
<text x="3282.0" y="2974" font-size="72" fill="#fff" stroke="#fff" stroke-width="1.4" textLength="288.0" lengthAdjust="spacingAndGlyphs">Versa 3D</text>
<rect x="1691" y="2829" width="64" height="52" fill="none" stroke="#fff" stroke-width="5"/>
<rect x="3030" y="2839" width="250" height="6" fill="#fff"/><rect x="3568" y="2839" width="260" height="6" fill="#fff"/>
<rect x="3027" y="2830" width="7" height="25" rx="3" fill="#fff"/><rect x="3824" y="2830" width="7" height="25" rx="3" fill="#fff"/>
<g transform="translate(137,2893)" fill="none" stroke="#e8e8e8" stroke-width="4"><ellipse rx="20" ry="61"/><ellipse rx="19" ry="60" transform="rotate(42)"/><ellipse rx="19" ry="60" transform="rotate(-42)"/><circle cx="-35" cy="-21" r="11" fill="#bdbdbd" stroke="none"/><circle cx="36" cy="19" r="11" fill="#bdbdbd" stroke="none"/></g>
</svg>
</body></html>
